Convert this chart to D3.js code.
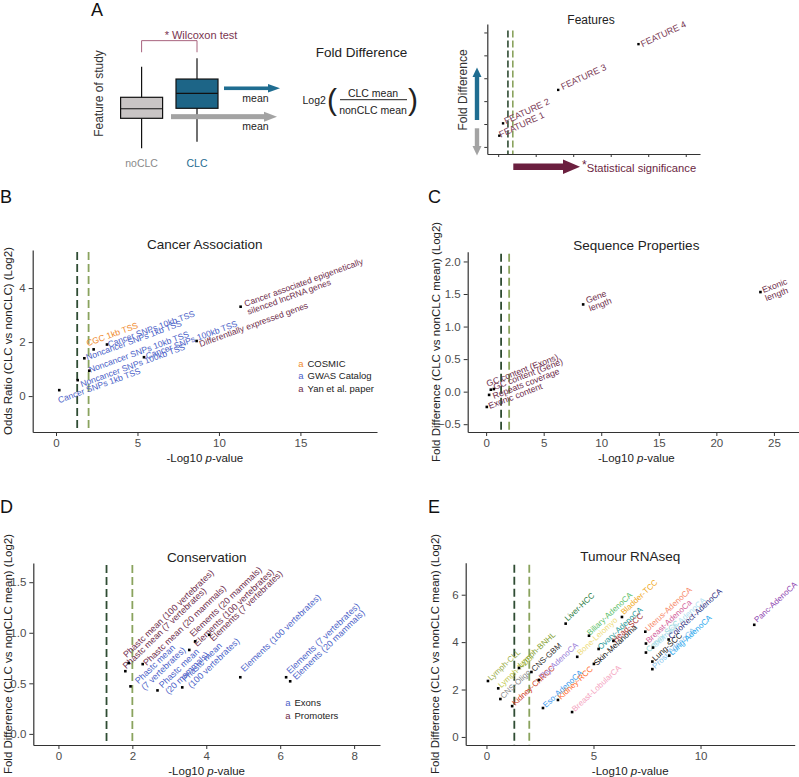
<!DOCTYPE html>
<html><head><meta charset="utf-8">
<script src="https://cdn.jsdelivr.net/npm/d3@7"></script>
<style>
body{margin:0;background:#fff}
svg text{font-family:"Liberation Sans",Arial,Helvetica,sans-serif}
</style></head>
<body><svg id="c" width="799" height="777"></svg>
<script>
// ================= DATA =================
const boxGroups = ["noCLC", "CLC"];
const boxMin = [1.06, 1.66];
const boxQ1 = [3.79, 4.70];
const boxMedian = [4.66, 6.06];
const boxQ3 = [5.70, 7.36];
const boxMax = [8.48, 9.25];
const boxMean = [3.94, 6.52];
const featureNames = ["FEATURE 1", "FEATURE 2", "FEATURE 3", "FEATURE 4"];
const featureX = [0.03, 0.13, 1.60, 3.74];
const featureY = [0.49, 1.03, 2.49, 4.49];
const featureTicks = [0, 1, 2, 3, 4, 5];
const featureThresholds = [0.26, 0.39];

const pThresholds = [1.30103, 2];

const cancerLabels = ["Cancer SNPs 1kb TSS", "Noncancer SNPs 100kb TSS", "Noncancer SNPs 1kb TSS",
  "Noncancer SNPs 10kb TSS", "CGC 1kb TSS", "Cancer SNPs 10kb TSS", "Cancer SNPs 100kb TSS",
  "Differentially expressed genes", "Cancer associated epigenetically\nsilenced lncRNA genes"];
const cancerX = [0.20, 1.33, 1.74, 2.04, 2.31, 3.13, 5.40, 8.63, 11.33];
const cancerY = [0.22, 0.59, 1.40, 0.94, 1.73, 1.91, 1.44, 2.04, 3.31];
const cancerSource = ["GWAS Catalog", "GWAS Catalog", "GWAS Catalog", "GWAS Catalog", "COSMIC",
  "GWAS Catalog", "GWAS Catalog", "Yan et al. paper", "Yan et al. paper"];
const cancerSources = ["COSMIC", "GWAS Catalog", "Yan et al. paper"];
const cancerXTicks = [0, 5, 10, 15];
const cancerYTicks = [0, 2, 4];

const seqLabels = ["GC content (Exons)", "GC content (Gene)", "Repeats coverage", "Exonic content",
  "Gene\nlength", "Exonic\nlength"];
const seqX = [0.41, 0.67, 0.26, 0.06, 8.43, 23.83];
const seqY = [0.03, 0.04, -0.05, -0.235, 1.34, 1.53];
const seqXTicks = [0, 5, 10, 15, 20, 25];
const seqYTicks = [-0.5, 0, 0.5, 1, 1.5, 2];

const consLabels = ["Phastc mean (100 vertebrates)", "Phastc mean (7 vertebrates)", "Phastc mean (20 mammals)",
  "Elements (20 mammals)", "Elements (100 vertebrates)", "Elements (7 vertebrates)",
  "Phastc mean\n(7 vertebrates)", "Phastc mean\n(20 mammals)", "Phastc mean\n(100 vertebrates)",
  "Elements (100 vertebrates)", "Elements (7 vertebrates)", "Elements (20 mammals)"];
const consX = [1.90, 1.81, 2.28, 3.70, 3.54, 4.08, 1.95, 2.68, 3.35, 4.92, 6.16, 6.27];
const consY = [0.70, 0.62, 0.69, 0.915, 0.83, 0.98, 0.47, 0.43, 0.46, 0.56, 0.56, 0.52];
const consRegion = ["Promoters", "Promoters", "Promoters", "Promoters", "Promoters", "Promoters",
  "Exons", "Exons", "Exons", "Exons", "Exons", "Exons"];
const consRegions = ["Exons", "Promoters"];
const consXTicks = [0, 2, 4, 6, 8];
const consYTicks = [0, 0.5, 1, 1.5];

const tumourLabels = ["Lymph-CLL", "Lymph-NOS", "CNS-Oligo", "Kidney-ChRCC", "Lymph-BNHL", "CNS-GBM",
  "Thy-AdenoCA", "Eso-AdenoCA", "Kidney-RCC", "Breast-LobularCA", "Liver-HCC", "Bone-Leiomyo",
  "Biliary-AdenoCA", "Skin-Melanoma", "Ovary-AdenoCA", "Head-SCC", "Bladder-TCC", "Cervix-SCC",
  "Lung-SCC", "Prost-AdenoCA", "Uterus-AdenoCA", "Breast-AdenoCa", "Stomach-AdenoCA",
  "ColoRect-AdenoCA", "Lung-AdenoCA", "Panc-AdenoCA"];
const tumourX = [0.07, 0.55, 0.65, 1.20, 1.52, 2.10, 2.45, 2.64, 3.34, 4.00, 3.70, 4.24, 4.79, 5.02,
  5.24, 5.93, 6.33, 7.45, 7.75, 7.75, 7.42, 7.45, 7.78, 8.51, 8.54, 12.51];
const tumourY = [2.36, 2.05, 1.60, 1.30, 2.91, 2.74, 2.40, 1.22, 1.56, 1.05, 4.78, 3.38, 4.27, 3.08,
  3.71, 4.05, 5.06, 3.56, 3.18, 2.86, 4.44, 3.94, 3.77, 4.11, 3.43, 4.73];
const tumourXTicks = [0, 5, 10];
const tumourYTicks = [0, 2, 4, 6];

// ================= STYLE / LAYOUT =================
const MAROON = "#6e2c4a", BLUE = "#4b5fc8", ORANGE = "#f08a2c";
const sourceColor = {"COSMIC": ORANGE, "GWAS Catalog": BLUE, "Yan et al. paper": MAROON};
const regionColor = {"Exons": BLUE, "Promoters": MAROON};
const tumourColor = {
  "Lymph-CLL": "#9aae4a", "Lymph-NOS": "#c3c94e", "CNS-Oligo": "#8a8a8a", "Kidney-ChRCC": "#cf3a1c",
  "Lymph-BNHL": "#7f9e2e", "CNS-GBM": "#333333", "Thy-AdenoCA": "#9a80d8", "Eso-AdenoCA": "#3c9aee",
  "Kidney-RCC": "#ff6a2a", "Breast-LobularCA": "#f4a3c0", "Liver-HCC": "#1f7a3e", "Bone-Leiomyo": "#eedc7a",
  "Biliary-AdenoCA": "#5cc06a", "Skin-Melanoma": "#111111", "Ovary-AdenoCA": "#2a9a9a", "Head-SCC": "#a83030",
  "Bladder-TCC": "#f0a81a", "Cervix-SCC": "#90d4d4", "Lung-SCC": "#111111", "Prost-AdenoCA": "#8cc6ee",
  "Uterus-AdenoCA": "#f7896a", "Breast-AdenoCa": "#d2609a", "Stomach-AdenoCA": "#b2e0f2",
  "ColoRect-AdenoCA": "#2f2f80", "Lung-AdenoCA": "#2aa8ee", "Panc-AdenoCA": "#8e44b0"
};
const DARK_DASH = "#2f4c33", LIGHT_DASH = "#8aa35e";
const TXT = "#222222", TICK = "#4d4d4d", AXIS = "#333333";

const cancerNudge = [[0,13],[4,7],[3,2],[1,2],[-6,-3],[2,3],[3,2],[4,6],[5,0]];
const seqNudge = [[-3,-3],[1,1],[5,4],[3,2],[4,-1],[3,1]];
const consNudge = [[-2,-5],[1,-2],[4,2],[-2,-4],[8,-3],[4,7],[8,-2],[5,-2],[3,-5],[4,-5],[4,-3],[6,-1]];
const tumourNudge = {"Liver-HCC":[2,-2], "Biliary-AdenoCA":[1,0], "Bladder-TCC":[2,-2], "Ovary-AdenoCA":[2,1],
  "Head-SCC":[2,2], "Bone-Leiomyo":[3,-1], "Skin-Melanoma":[3,2], "Panc-AdenoCA":[3,-2], "Lymph-BNHL":[2,0]};

const svg = d3.select("#c");

function multiText(g, tx, ty, text, rot, size, color, anchor) {
  const t = g.append("text")
    .attr("transform", `translate(${tx},${ty}) rotate(${rot})`)
    .attr("font-size", size).attr("fill", color).attr("text-anchor", anchor || "start");
  text.split("\n").forEach((line, i) => t.append("tspan").attr("x", 0).attr("dy", i ? "1.0em" : 0).text(line));
  return t;
}
function letter(txt, x, y) {
  svg.append("text").attr("x", x).attr("y", y).attr("font-size", 18).attr("fill", "#111").text(txt);
}
function xTitle(g, cx, y) {
  const t = g.append("text").attr("x", cx).attr("y", y).attr("text-anchor", "middle")
    .attr("font-size", 11.5).attr("fill", TXT);
  t.append("tspan").text("-Log10 ");
  t.append("tspan").attr("font-style", "italic").text("p");
  t.append("tspan").text("-value");
}

function scatterPanel(o) {
  const g = svg.append("g");
  const x = d3.scaleLinear().domain(o.xDomain).range([o.box.l, o.box.r]);
  const y = d3.scaleLinear().domain(o.yDomain).range([o.box.b, o.box.t]);
  pThresholds.forEach((t, i) => {
    g.append("line").attr("x1", x(t)).attr("x2", x(t)).attr("y1", o.box.t + 2).attr("y2", o.box.b)
      .attr("stroke", i ? LIGHT_DASH : DARK_DASH).attr("stroke-width", 1.8)
      .attr("stroke-dasharray", "8,4");
  });
  const ya = g.append("g").attr("transform", `translate(${o.box.l},0)`)
    .call(d3.axisLeft(y).tickValues(o.yTicks).tickSize(4).tickSizeOuter(0).tickPadding(3)
      .tickFormat(o.yFmt || d3.format("d")));
  const xa = g.append("g").attr("transform", `translate(0,${o.box.b})`)
    .call(d3.axisBottom(x).tickValues(o.xTicks).tickSize(4).tickSizeOuter(0).tickPadding(3)
      .tickFormat(d3.format("d")));
  [ya, xa].forEach(a => {
    a.select(".domain").attr("stroke", AXIS).attr("stroke-width", 1.2);
    a.selectAll(".tick line").attr("stroke", AXIS).attr("stroke-width", 1);
    a.selectAll(".tick text").attr("fill", TICK).attr("font-size", 11.5)
      .attr("font-family", '"Liberation Sans",Arial,sans-serif');
  });
  g.append("text").attr("x", (o.box.l + o.box.r) / 2).attr("y", o.box.t - 1.5)
    .attr("text-anchor", "middle").attr("font-size", 13.5).attr("fill", TXT).text(o.title);
  xTitle(g, (o.box.l + o.box.r) / 2, o.box.b + 30);
  g.append("text").attr("transform", `translate(${o.yTitleX},${(o.box.t + o.box.b) / 2}) rotate(-90)`)
    .attr("text-anchor", "middle").attr("font-size", 11.5).attr("fill", TXT).text(o.yTitle);
  o.xs.forEach((v, i) => {
    const px = x(v), py = y(o.ys[i]);
    const n = o.nudge(i);
    multiText(g, px + n[0], py + n[1], o.labels[i], o.rot, o.labelSize, o.color(i));
  });
  o.xs.forEach((v, i) => {
    g.append("rect").attr("x", x(v) - 1.3).attr("y", y(o.ys[i]) - 1.3)
      .attr("width", 2.6).attr("height", 2.6).attr("fill", "#000");
  });
  return {g, x, y};
}

// ================= PANEL A =================
letter("A", 91, 16);
(function () {
  const g = svg.append("g");
  const yB = d3.scaleLinear().domain([0, 10]).range([160, 50]);
  const xB = d3.scalePoint().domain(boxGroups).range([141.6, 197]);
  const bw = 42;
  g.append("text").attr("transform", `translate(103,93.5) rotate(-90)`).attr("text-anchor", "middle")
    .attr("font-size", 12).attr("fill", "#333").text("Feature of study");
  boxGroups.forEach((grp, i) => {
    const cx = xB(grp);
    g.append("line").attr("x1", cx).attr("x2", cx).attr("y1", yB(boxMin[i])).attr("y2", yB(boxMax[i]))
      .attr("stroke", "#111").attr("stroke-width", 1.2);
    g.append("rect").attr("x", cx - bw / 2).attr("y", yB(boxQ3[i])).attr("width", bw)
      .attr("height", yB(boxQ1[i]) - yB(boxQ3[i]))
      .attr("fill", i ? "#1d6587" : "#c9c5c5").attr("stroke", "#111").attr("stroke-width", 1.2);
    g.append("line").attr("x1", cx - bw / 2).attr("x2", cx + bw / 2).attr("y1", yB(boxMedian[i])).attr("y2", yB(boxMedian[i]))
      .attr("stroke", "#111").attr("stroke-width", 1.2);
    g.append("text").attr("x", cx).attr("y", 166.5).attr("text-anchor", "middle").attr("font-size", 10.5)
      .attr("fill", i ? "#1f6d91" : "#8a8a8a").text(grp);
  });
  const bb = yB(boxMax[1]) - 6;
  g.append("path").attr("d", `M${xB("noCLC")},${bb} V${bb - 11.6} H${xB("CLC")} V${bb}`)
    .attr("fill", "none").attr("stroke", "#a8647e").attr("stroke-width", 1);
  g.append("text").attr("x", 201).attr("y", 39).attr("text-anchor", "middle").attr("font-size", 11)
    .attr("fill", "#7a3450").text("* Wilcoxon test");
  function hArrow(x0, x1, yy, th, hh, hl, col) {
    g.append("rect").attr("x", x0).attr("y", yy - th / 2).attr("width", x1 - hl - x0 + 1).attr("height", th).attr("fill", col);
    g.append("path").attr("d", `M${x1 - hl},${yy - hh} L${x1},${yy} L${x1 - hl},${yy + hh} Z`).attr("fill", col);
  }
  hArrow(224, 280, yB(boxMean[1]), 3.6, 4.2, 12, "#1f6d91");
  hArrow(171, 277, yB(boxMean[0]), 5, 5, 13, "#a3a3a3");
  g.append("text").attr("x", 255.5).attr("y", 101.7).attr("text-anchor", "middle").attr("font-size", 10.5).attr("fill", "#222").text("mean");
  g.append("text").attr("x", 255.5).attr("y", 130).attr("text-anchor", "middle").attr("font-size", 10.5).attr("fill", "#222").text("mean");
  g.append("text").attr("x", 361.5).attr("y", 56.5).attr("text-anchor", "middle").attr("font-size", 13.5).attr("fill", "#222").text("Fold Difference");
  g.append("text").attr("x", 302.5).attr("y", 104).attr("font-size", 10.5).attr("fill", "#222").text("Log2");
  g.append("text").attr("x", 327).attr("y", 110).attr("font-size", 30).attr("fill", "#222").text("(");
  g.append("text").attr("x", 408).attr("y", 110).attr("font-size", 30).attr("fill", "#222").text(")");
  g.append("text").attr("x", 373).attr("y", 96.5).attr("text-anchor", "middle").attr("font-size", 10.5).attr("fill", "#222").text("CLC mean");
  g.append("line").attr("x1", 340).attr("x2", 407).attr("y1", 99.7).attr("y2", 99.7).attr("stroke", "#222").attr("stroke-width", 1);
  g.append("text").attr("x", 373).attr("y", 113.5).attr("text-anchor", "middle").attr("font-size", 10.5).attr("fill", "#222").text("nonCLC mean");

  const xm = d3.scaleLinear().domain([-0.29, 5.38]).range([487.3, 700]);
  const ym = d3.scaleLinear().domain([-0.31, 5.37]).range([154, 24]);
  featureThresholds.forEach((t, i) => {
    g.append("line").attr("x1", xm(t)).attr("x2", xm(t)).attr("y1", 30.5).attr("y2", 154)
      .attr("stroke", i ? LIGHT_DASH : DARK_DASH).attr("stroke-width", 1.6).attr("stroke-dasharray", "7,3");
  });
  const ax = g.append("g").attr("transform", "translate(0,154)")
    .call(d3.axisBottom(xm).tickValues(featureTicks).tickSize(3).tickSizeOuter(0).tickFormat(""));
  const ay = g.append("g").attr("transform", "translate(487.3,0)")
    .call(d3.axisLeft(ym).tickValues(featureTicks).tickSize(3).tickSizeOuter(0).tickFormat(""));
  [ax, ay].forEach(a => { a.select(".domain").attr("stroke", AXIS).attr("stroke-width", 1.2); a.selectAll(".tick line").attr("stroke", AXIS); });
  g.append("text").attr("x", 591).attr("y", 23.5).attr("text-anchor", "middle").attr("font-size", 12).attr("fill", "#222").text("Features");
  const fn = [[1.5, 2], [3, 1], [4.5, 0], [4, 3]];
  featureNames.forEach((nm, i) => {
    multiText(g, xm(featureX[i]) + fn[i][0], ym(featureY[i]) + fn[i][1], nm, -25, 9, "#7a3a55");
  });
  featureNames.forEach((nm, i) => {
    g.append("rect").attr("x", xm(featureX[i]) - 1.2).attr("y", ym(featureY[i]) - 1.2).attr("width", 2.4).attr("height", 2.4).attr("fill", "#000");
  });
  g.append("text").attr("transform", "translate(466.5,90) rotate(-90)").attr("text-anchor", "middle")
    .attr("font-size", 12).attr("fill", "#333").text("Fold Difference");
  g.append("rect").attr("x", 474.8).attr("y", 76).attr("width", 4.4).attr("height", 44).attr("fill", "#1f6d91");
  g.append("path").attr("d", "M472.5,77 L477,67.5 L481.5,77 Z").attr("fill", "#1f6d91");
  g.append("rect").attr("x", 474.8).attr("y", 128.3).attr("width", 4.4).attr("height", 18).attr("fill", "#a3a3a3");
  g.append("path").attr("d", "M472.5,146 L477,155.5 L481.5,146 Z").attr("fill", "#a3a3a3");
  g.append("rect").attr("x", 513.3).attr("y", 163.5).attr("width", 52).attr("height", 6.5).attr("fill", "#6b1f3f");
  g.append("path").attr("d", "M563,159.5 L580,166.7 L563,174 Z").attr("fill", "#6b1f3f");
  const st = g.append("text").attr("x", 582).attr("y", 172).attr("font-size", 11.2).attr("fill", "#6b1f3f");
  st.append("tspan").attr("dy", -3).attr("font-size", 12).text("*");
  st.append("tspan").attr("dy", 3).text("Statistical significance");
})();

// ================= PANEL B =================
letter("B", 0, 203);
const pB = scatterPanel({
  box: {l: 32.7, r: 377, t: 250, b: 432}, xDomain: [-1.43, 19.7], yDomain: [-1.33, 5.41],
  xTicks: cancerXTicks, yTicks: cancerYTicks, title: "Cancer Association",
  yTitle: "Odds Ratio (CLC vs nonCLC) (Log2)", yTitleX: 12,
  xs: cancerX, ys: cancerY, labels: cancerLabels, rot: -20, labelSize: 8.6,
  nudge: i => cancerNudge[i], color: i => sourceColor[cancerSource[i]]
});
cancerSources.forEach((s, i) => {
  pB.g.append("text").attr("x", 301).attr("y", 366.5 + i * 12.8).attr("text-anchor", "middle")
    .attr("font-size", 9.5).attr("fill", sourceColor[s]).text("a");
  pB.g.append("text").attr("x", 307.5).attr("y", 366.5 + i * 12.8).attr("font-size", 9.5).attr("fill", "#222").text(s);
});

// ================= PANEL C =================
letter("C", 428, 203);
scatterPanel({
  box: {l: 467.7, r: 805, t: 251.7, b: 432}, xDomain: [-1.6, 27.7], yDomain: [-0.62, 2.15],
  xTicks: seqXTicks, yTicks: seqYTicks, yFmt: d3.format(".1f"), title: "Sequence Properties",
  yTitle: "Fold Difference (CLC vs nonCLC mean) (Log2)", yTitleX: 440,
  xs: seqX, ys: seqY, labels: seqLabels, rot: -21, labelSize: 8.7,
  nudge: i => seqNudge[i], color: () => MAROON
});

// ================= PANEL D =================
letter("D", 0, 513);
const pD = scatterPanel({
  box: {l: 33.3, r: 380, t: 563, b: 745}, xDomain: [-0.68, 8.7], yDomain: [-0.11, 1.69],
  xTicks: consXTicks, yTicks: consYTicks, yFmt: d3.format(".1f"), title: "Conservation",
  yTitle: "Fold Difference (CLC vs nonCLC mean) (Log2)", yTitleX: 12,
  xs: consX, ys: consY, labels: consLabels, rot: -44, labelSize: 8.9,
  nudge: i => consNudge[i], color: i => regionColor[consRegion[i]]
});
consRegions.forEach((s, i) => {
  pD.g.append("text").attr("x", 288).attr("y", 706 + i * 13).attr("text-anchor", "middle")
    .attr("font-size", 9.5).attr("fill", regionColor[s]).text("a");
  pD.g.append("text").attr("x", 294.5).attr("y", 706 + i * 13).attr("font-size", 9.5).attr("fill", "#222").text(s);
});

// ================= PANEL E =================
letter("E", 428, 513);
scatterPanel({
  box: {l: 465.7, r: 794.7, t: 562.7, b: 745}, xDomain: [-0.97, 14.4], yDomain: [-0.34, 7.35],
  xTicks: tumourXTicks, yTicks: tumourYTicks, title: "Tumour RNAseq",
  yTitle: "Fold Difference (CLC vs nonCLC mean) (Log2)", yTitleX: 439,
  xs: tumourX, ys: tumourY, labels: tumourLabels, rot: -43, labelSize: 8,
  nudge: i => tumourNudge[tumourLabels[i]] || [3, 0], color: i => tumourColor[tumourLabels[i]]
});
</script></body></html>
